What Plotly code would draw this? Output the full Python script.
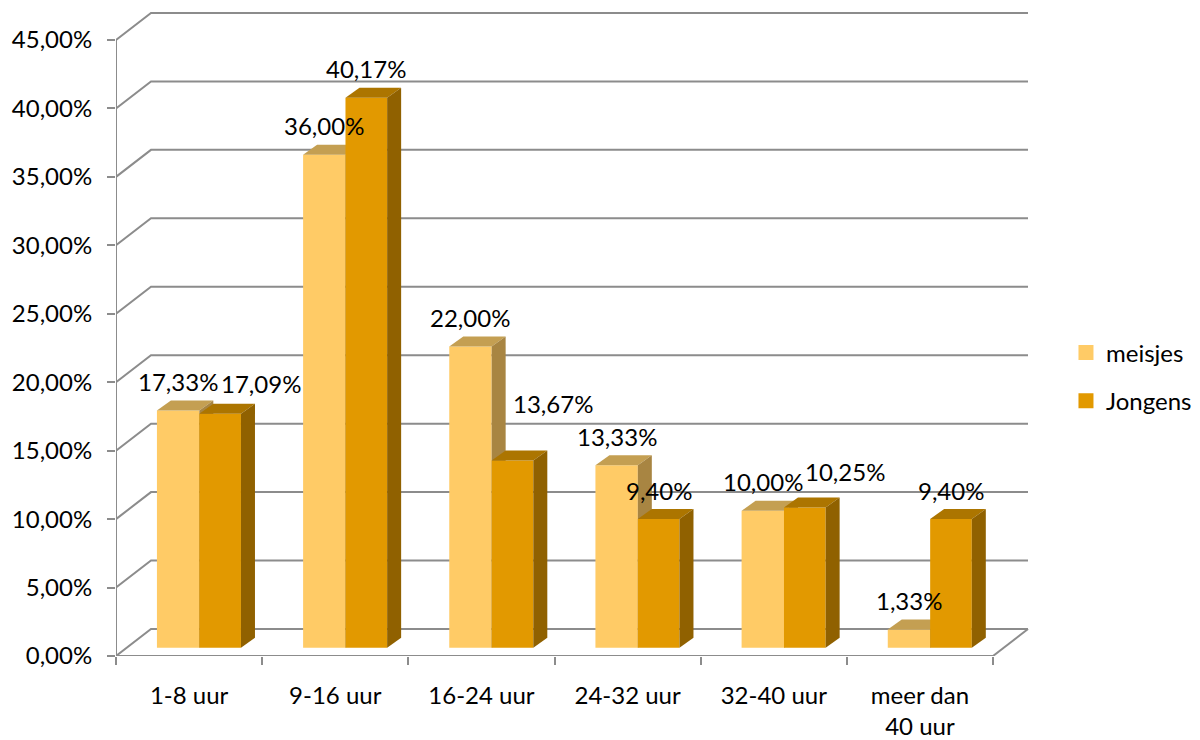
import plotly.graph_objects as go

categories = ["1-8 uur", "9-16 uur", "16-24 uur", "24-32 uur", "32-40 uur", "meer dan<br>40 uur"]
meisjes = [17.33, 36.00, 22.00, 13.33, 10.00, 1.33]
jongens = [17.09, 40.17, 13.67, 9.40, 10.25, 9.40]
y_ticks = [0, 5, 10, 15, 20, 25, 30, 35, 40, 45]
y_tick_labels = ["0,00%", "5,00%", "10,00%", "15,00%", "20,00%", "25,00%", "30,00%", "35,00%", "40,00%", "45,00%"]

GRID = "#8c8c8c"
FONT = "Lato, Carlito, sans-serif"
C_M = ("#FFCB66", "#C49F52", "#A88542")
C_J = ("#E29900", "#AC7500", "#906100")
SIZE = 24

PX_X = 146.2
PX_Y = 13.69
WALL_DX, WALL_DY = 35 / PX_X, 27 / PX_Y
BAR_DX, BAR_DY = 14 / PX_X, 10 / PX_Y
BASE = 8.3 / PX_Y
M_X0, SPLIT, J_X1 = 0.28, 0.57, 0.855
N = len(categories)
X_MAX = N + 36 / PX_X
Y_MAX = 646 / PX_Y

fig = go.Figure()


def line(xs, ys, axis_x="x", axis_y="y"):
    fig.add_trace(go.Scatter(x=xs, y=ys, mode="lines", line=dict(color=GRID, width=2),
                             hoverinfo="skip", showlegend=False, cliponaxis=False,
                             xaxis=axis_x, yaxis=axis_y))


# walls
wx, wy = [], []
for t in y_ticks:
    wx += [0, WALL_DX, N + WALL_DX, None]
    wy += [t, t + WALL_DY, t + WALL_DY, None]
line(wx, wy)
line([N, N + WALL_DX], [0, WALL_DY])
line([0, 0, N], [45, 0, 0])


def faces(name, values, x0, x1, cols, xa, ya):
    w = x1 - x0
    fig.add_trace(go.Bar(name=name, x=[i + (x0 + x1) / 2 for i in range(N)], y=values,
                         base=[BASE] * N, width=[w] * N, marker=dict(color=cols[0], line=dict(width=0)),
                         showlegend=False, xaxis=xa, yaxis=ya))
    for i, v in enumerate(values):
        top = BASE + v
        a, b = i + x0, i + x1
        fig.add_trace(go.Scatter(x=[a, a + BAR_DX, b + BAR_DX, b, a],
                                 y=[top, top + BAR_DY, top + BAR_DY, top, top],
                                 mode="lines", fill="toself", fillcolor=cols[1], line=dict(width=0),
                                 hoverinfo="skip", showlegend=False, xaxis=xa, yaxis=ya))
        fig.add_trace(go.Scatter(x=[b, b + BAR_DX, b + BAR_DX, b, b],
                                 y=[top, top + BAR_DY, BASE + BAR_DY, BASE, top],
                                 mode="lines", fill="toself", fillcolor=cols[2], line=dict(width=0),
                                 hoverinfo="skip", showlegend=False, xaxis=xa, yaxis=ya))
    # legend key
    fig.add_trace(go.Scatter(name=name, x=[None], y=[None], mode="markers", legendgroup=name,
                             marker=dict(symbol="square", size=15, color=cols[0], line=dict(width=0)),
                             xaxis=xa, yaxis=ya))


faces("meisjes", meisjes, M_X0, SPLIT, C_M, "x2", "y2")
faces("Jongens", jongens, SPLIT, J_X1, C_J, "x3", "y3")

# data labels: (xshift, yshift) in pixels above the bar's front-top edge
DEFAULT_SHIFT = (0, 29)
SHIFTS = {("j", 0): (41, 30), ("j", 2): (41, 57), ("j", 4): (40, 36)}
ann = []
for key, vals, x0, x1 in (("m", meisjes, M_X0, SPLIT), ("j", jongens, SPLIT, J_X1)):
    for i, v in enumerate(vals):
        sx, sy = SHIFTS.get((key, i), DEFAULT_SHIFT)
        ann.append(dict(x=i + (x0 + x1) / 2, y=BASE + v, xref="x3", yref="y3", showarrow=False,
                        text=f"{v:.2f}%".replace(".", ","), xshift=sx, yshift=sy,
                        xanchor="center", yanchor="middle",
                        font=dict(family=FONT, size=SIZE, color="#000000")))

hidden = dict(visible=False, fixedrange=True, automargin=False)
fig.update_layout(
    width=1200, height=740, paper_bgcolor="#ffffff", plot_bgcolor="#ffffff",
    margin=dict(l=116, r=171, t=10, b=84, autoexpand=False), separators=",.", barmode="overlay",
    font=dict(family=FONT, size=SIZE, color="#000000"),
    annotations=ann,
    legend=dict(x=1.0405, y=0.504, xanchor="left", yanchor="top", tracegroupgap=14,
                font=dict(family=FONT, size=SIZE), itemwidth=30, bgcolor="rgba(0,0,0,0)"),
    xaxis=dict(range=[0, X_MAX], tickvals=[i + 0.5 for i in range(N)], ticktext=categories,
               ticks="", ticklen=0, showgrid=False, zeroline=False, showline=False, automargin=False,
               ticklabelstandoff=23, tickangle=0,
               minor=dict(tickvals=list(range(N + 1)), ticks="outside", ticklen=8, tickwidth=2,
                          tickcolor=GRID, showgrid=False)),
    yaxis=dict(range=[0, Y_MAX], tickvals=y_ticks, ticktext=y_tick_labels,
               ticks="outside", ticklen=8, tickwidth=2, tickcolor=GRID, showgrid=False,
               zeroline=False, showline=False, automargin=False, ticklabelstandoff=10),
    xaxis2=dict(range=[0, X_MAX], overlaying="x", **hidden),
    yaxis2=dict(range=[0, Y_MAX], overlaying="y", **hidden),
    xaxis3=dict(range=[0, X_MAX], overlaying="x", **hidden),
    yaxis3=dict(range=[0, Y_MAX], overlaying="y", **hidden),
)
fig.write_html("out.html", post_script="document.body.style.margin='0';",
               config={"displayModeBar": False})
